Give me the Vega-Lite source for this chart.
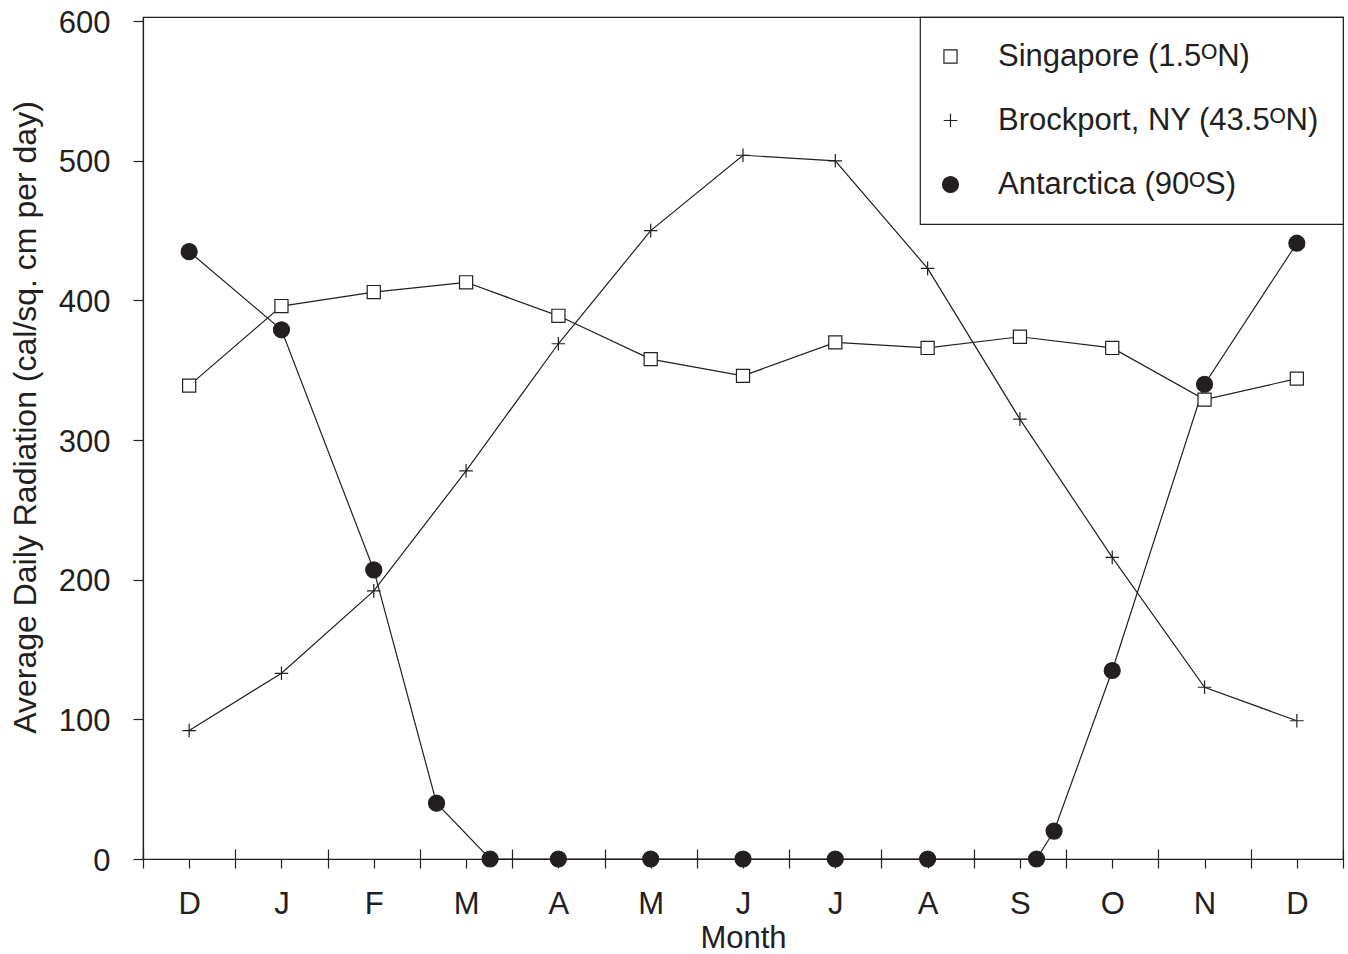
{
  "$schema": "https://vega.github.io/schema/vega-lite/v6.json",
  "width": 1200,
  "height": 842,
  "autosize": {"type": "none"},
  "padding": {"left": 143, "top": 17, "right": 5, "bottom": 95},
  "background": "white",
  "config": {
    "font": "Liberation Sans",
    "view": {"stroke": "#231f20", "strokeWidth": 1.2},
    "axis": {
      "grid": false,
      "domainColor": "#231f20",
      "domainWidth": 1.2,
      "tickColor": "#231f20",
      "tickWidth": 1.2,
      "labelColor": "#231f20",
      "titleColor": "#231f20",
      "labelFont": "Liberation Sans",
      "titleFont": "Liberation Sans",
      "titleFontWeight": "normal",
      "labelFontSize": 31,
      "titleFontSize": 31
    },
    "legend": {
      "orient": "top-right",
      "offset": 0,
      "padding": 24,
      "strokeColor": "#231f20",
      "strokeWidth": 1.2,
      "fillColor": "white",
      "labelFont": "Liberation Sans",
      "labelFontSize": 31,
      "labelColor": "#231f20",
      "labelLimit": 600,
      "symbolSize": 256,
      "symbolOffset": -9,
      "symbolStrokeColor": "#231f20",
      "symbolStrokeWidth": 1.2,
      "rowPadding": 32,
      "labelOffset": 32
    }
  },
  "data": {
    "values": [
      {"series": "Singapore (1.5ᴼN)", "month": 0, "radiation": 339},
      {"series": "Singapore (1.5ᴼN)", "month": 1, "radiation": 396},
      {"series": "Singapore (1.5ᴼN)", "month": 2, "radiation": 406},
      {"series": "Singapore (1.5ᴼN)", "month": 3, "radiation": 413},
      {"series": "Singapore (1.5ᴼN)", "month": 4, "radiation": 389},
      {"series": "Singapore (1.5ᴼN)", "month": 5, "radiation": 358},
      {"series": "Singapore (1.5ᴼN)", "month": 6, "radiation": 346},
      {"series": "Singapore (1.5ᴼN)", "month": 7, "radiation": 370},
      {"series": "Singapore (1.5ᴼN)", "month": 8, "radiation": 366},
      {"series": "Singapore (1.5ᴼN)", "month": 9, "radiation": 374},
      {"series": "Singapore (1.5ᴼN)", "month": 10, "radiation": 366},
      {"series": "Singapore (1.5ᴼN)", "month": 11, "radiation": 329},
      {"series": "Singapore (1.5ᴼN)", "month": 12, "radiation": 344},
      {"series": "Brockport, NY (43.5ᴼN)", "month": 0, "radiation": 92},
      {"series": "Brockport, NY (43.5ᴼN)", "month": 1, "radiation": 133},
      {"series": "Brockport, NY (43.5ᴼN)", "month": 2, "radiation": 192},
      {"series": "Brockport, NY (43.5ᴼN)", "month": 3, "radiation": 278},
      {"series": "Brockport, NY (43.5ᴼN)", "month": 4, "radiation": 369},
      {"series": "Brockport, NY (43.5ᴼN)", "month": 5, "radiation": 450},
      {"series": "Brockport, NY (43.5ᴼN)", "month": 6, "radiation": 504},
      {"series": "Brockport, NY (43.5ᴼN)", "month": 7, "radiation": 500},
      {"series": "Brockport, NY (43.5ᴼN)", "month": 8, "radiation": 423},
      {"series": "Brockport, NY (43.5ᴼN)", "month": 9, "radiation": 315},
      {"series": "Brockport, NY (43.5ᴼN)", "month": 10, "radiation": 216},
      {"series": "Brockport, NY (43.5ᴼN)", "month": 11, "radiation": 123},
      {"series": "Brockport, NY (43.5ᴼN)", "month": 12, "radiation": 99},
      {"series": "Antarctica (90ᴼS)", "month": 0, "radiation": 435},
      {"series": "Antarctica (90ᴼS)", "month": 1, "radiation": 379},
      {"series": "Antarctica (90ᴼS)", "month": 2, "radiation": 207},
      {"series": "Antarctica (90ᴼS)", "month": 2.68, "radiation": 40},
      {"series": "Antarctica (90ᴼS)", "month": 3.26, "radiation": 0},
      {"series": "Antarctica (90ᴼS)", "month": 4, "radiation": 0},
      {"series": "Antarctica (90ᴼS)", "month": 5, "radiation": 0},
      {"series": "Antarctica (90ᴼS)", "month": 6, "radiation": 0},
      {"series": "Antarctica (90ᴼS)", "month": 7, "radiation": 0},
      {"series": "Antarctica (90ᴼS)", "month": 8, "radiation": 0},
      {"series": "Antarctica (90ᴼS)", "month": 9.18, "radiation": 0},
      {"series": "Antarctica (90ᴼS)", "month": 9.37, "radiation": 20},
      {"series": "Antarctica (90ᴼS)", "month": 10, "radiation": 135},
      {"series": "Antarctica (90ᴼS)", "month": 11, "radiation": 340},
      {"series": "Antarctica (90ᴼS)", "month": 12, "radiation": 441}
    ]
  },
  "layer": [
    {
      "mark": {"type": "line", "color": "#231f20", "strokeWidth": 1.2},
      "encoding": {
        "x": {
          "field": "month",
          "type": "quantitative",
          "scale": {"domain": [-0.5, 12.5], "nice": false, "zero": false},
          "axis": {
            "values": [-0.5, 0, 0.5, 1, 1.5, 2, 2.5, 3, 3.5, 4, 4.5, 5, 5.5, 6, 6.5, 7, 7.5, 8, 8.5, 9, 9.5, 10, 10.5, 11, 11.5, 12, 12.5],
            "labelExpr": "datum.value == floor(datum.value) ? ['D','J','F','M','A','M','J','J','A','S','O','N','D'][datum.value] : ''",
            "tickSize": 9,
            "labelBaseline": "alphabetic",
            "labelPadding": 45,
            "labelOverlap": false,
            "labelFlush": false,
            "labelBound": false,
            "title": "Month",
            "titleBaseline": "alphabetic",
            "titleY": 88
          }
        },
        "y": {
          "field": "radiation",
          "type": "quantitative",
          "scale": {"domain": [0, 603], "nice": false, "zero": true},
          "axis": {
            "values": [0, 100, 200, 300, 400, 500, 600],
            "tickSize": 10,
            "labelPadding": 23,
            "labelBaseline": "alphabetic",
            "labelOffset": 11,
            "labelFlush": false,
            "labelOverlap": false,
            "title": "Average Daily Radiation (cal/sq. cm per day)",
            "titleFontSize": 32,
            "titleAngle": 270,
            "titleAlign": "center",
            "titleBaseline": "alphabetic",
            "titleX": -108,
            "titleY": 400
          }
        },
        "detail": {"field": "series", "type": "nominal"}
      }
    },
    {
      "mark": {"type": "point", "filled": true, "strokeWidth": 1.2, "size": 256, "opacity": 1},
      "encoding": {
        "x": {
          "field": "month",
          "type": "quantitative",
          "axis": {
            "orient": "top",
            "offset": -842,
            "values": [-0.5, 0.5, 1.5, 2.5, 3.5, 4.5, 5.5, 6.5, 7.5, 8.5, 9.5, 10.5, 11.5, 12.5],
            "labels": false,
            "domain": false,
            "tickSize": 10,
            "title": null
          }
        },
        "y": {"field": "radiation", "type": "quantitative"},
        "shape": {
          "field": "series",
          "type": "nominal",
          "scale": {
            "domain": ["Singapore (1.5ᴼN)", "Brockport, NY (43.5ᴼN)", "Antarctica (90ᴼS)"],
            "range": ["M-0.82,-0.82H0.82V0.82H-0.82Z", "M-0.85,0H0.85M0,-0.85V0.85", "circle"]
          },
          "legend": {"title": null}
        },
        "fill": {
          "field": "series",
          "type": "nominal",
          "scale": {
            "domain": ["Singapore (1.5ᴼN)", "Brockport, NY (43.5ᴼN)", "Antarctica (90ᴼS)"],
            "range": ["white", "transparent", "#231f20"]
          },
          "legend": {"title": null}
        },
        "stroke": {
          "field": "series",
          "type": "nominal",
          "scale": {
            "domain": ["Singapore (1.5ᴼN)", "Brockport, NY (43.5ᴼN)", "Antarctica (90ᴼS)"],
            "range": ["#231f20", "#231f20", "#231f20"]
          },
          "legend": {"title": null}
        }
      }
    }
  ],
  "resolve": {"axis": {"x": "independent"}}
}
